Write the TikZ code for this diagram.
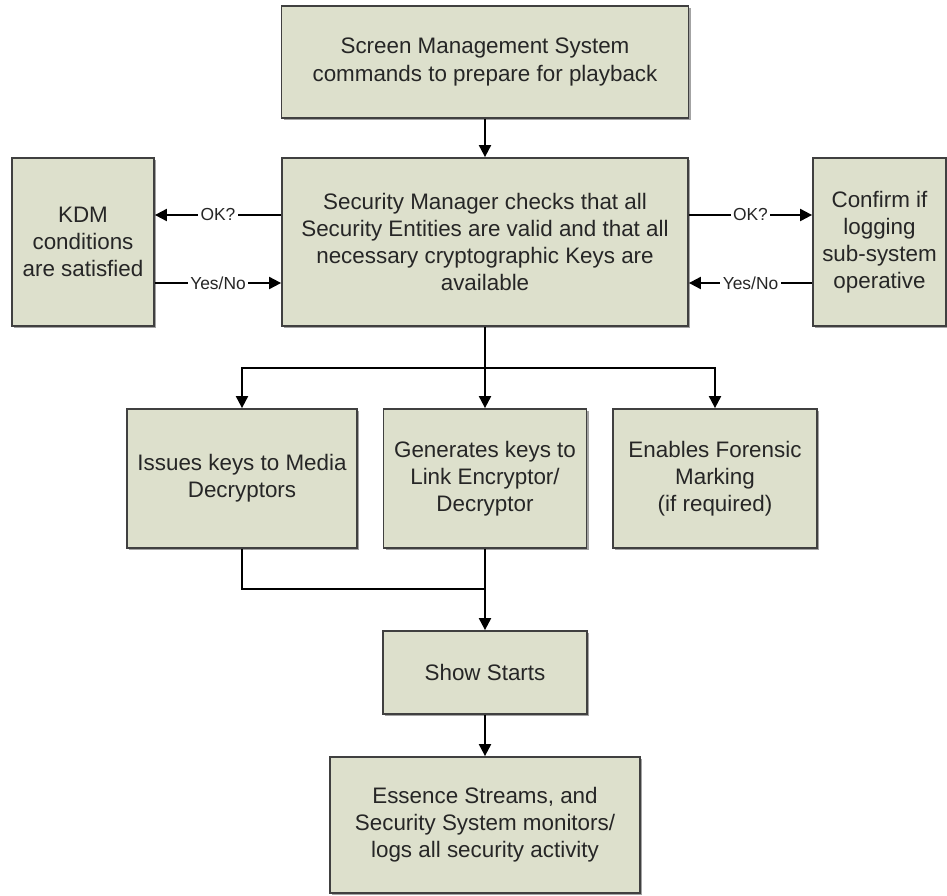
\documentclass[tikz,border=0pt]{standalone}
\usepackage{fontspec}
\setmainfont{Liberation Sans}
\usetikzlibrary{arrows.meta, shadows, positioning}
\definecolor{boxfill}{RGB}{221,224,204}
\definecolor{boxline}{RGB}{64,64,64}

\begin{document}
\begin{tikzpicture}[x=.5pt, y=-.5pt, line width=1pt,
		box/.style = {draw=boxline, line width=.9pt, fill=boxfill, align=center, inner sep=2pt,
		              text=black!85, font=\fontsize{11.2pt}{13.5pt}\selectfont,
		              drop shadow={shadow xshift=1pt, shadow yshift=-1pt, fill=black!60, opacity=.6}},
		lbl/.style = {fill=white, inner sep=1.2pt, text=black!85, font=\fontsize{8.7pt}{10pt}\selectfont},
		arr/.style = {-{Triangle[length=6pt, width=6pt]}}]
	\useasboundingbox (0,0) rectangle (947,895);
		\node[box, minimum width=203.5pt, minimum height=56pt] (sms)      at (485,  62){Screen Management System\\commands to prepare for playback};
		\node[box, minimum width=203pt,   minimum height=84pt] (secmgr)   at (485, 242){Security Manager checks that all\\Security Entities are valid and that all\\necessary cryptographic Keys are\\available};
		\node[box, minimum width=71pt,    minimum height=84pt] (kdm)      at ( 83, 242){KDM\\conditions\\are satisfied};
		\node[box, minimum width=66.5pt,  minimum height=84pt] (logging)  at (879.5,242){Confirm if\\logging\\sub-system\\operative};
		\node[box, minimum width=115pt,   minimum height=69.5pt] (issues) at (242, 478.5){Issues keys to Media\\Decryptors};
		\node[box, minimum width=101.5pt, minimum height=69.5pt] (genkeys) at (485, 478.5){Generates keys to\\Link Encryptor/\\Decryptor};
		\node[box, minimum width=102pt,   minimum height=69.5pt] (forensic) at (715, 478.5){Enables Forensic\\Marking\\(if required)};
		\node[box, minimum width=102pt,   minimum height=41.5pt] (show)    at (485, 672.5){Show Starts};
		\node[box, minimum width=155pt,   minimum height=68pt] (essence)  at (485, 825){Essence Streams, and\\Security System monitors/\\logs all security activity};
		\coordinate (split) at (485, 368);
		\coordinate (merge) at (485, 589);
		\draw[arr] (sms) -- (secmgr);
		\draw[arr] ([yshift= 13.5pt]secmgr.west)  -- node[lbl]{OK?}    ([yshift= 13.5pt]kdm.east);
		\draw[arr] ([yshift=-20.5pt]kdm.east)     -- node[lbl]{Yes/No} ([yshift=-20.5pt]secmgr.west);
		\draw[arr] ([yshift= 13.5pt]secmgr.east)  -- node[lbl]{OK?}    ([yshift= 13.5pt]logging.west);
		\draw[arr] ([yshift=-20.5pt]logging.west) -- node[lbl]{Yes/No} ([yshift=-20.5pt]secmgr.east);
		\draw      (secmgr) -- (split);
		\draw[arr] (split) -| (issues);
		\draw[arr] (split) -- (genkeys);
		\draw[arr] (split) -| (forensic);
		\draw      (issues) |- (merge);
		\draw[arr] (genkeys) -- (show);
		\draw[arr] (show) -- (essence);
	\end{tikzpicture}
\end{document}
